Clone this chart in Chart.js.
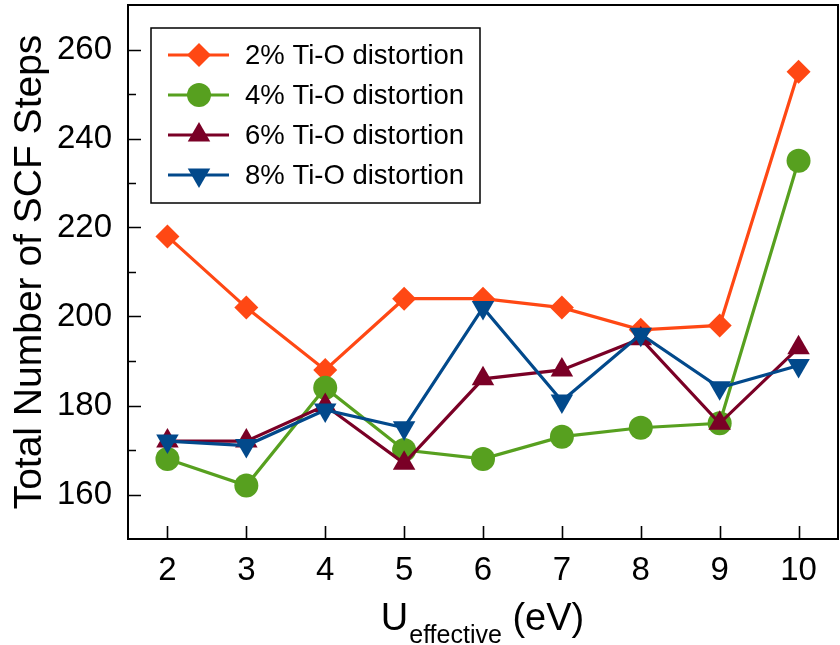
<!DOCTYPE html>
<html>
<head>
<meta charset="utf-8">
<script src="https://cdn.jsdelivr.net/npm/chart.js@4.4.1/dist/chart.umd.min.js"></script>
<style>
  html, body { margin: 0; padding: 0; background: #fff; }
  #wrap { width: 840px; height: 645px; }
</style>
</head>
<body>
<div id="wrap"><canvas id="scf" width="840" height="645"></canvas></div>
<script>
// U_effective (eV) on the x axis
const uValues = [2, 3, 4, 5, 6, 7, 8, 9, 10];

// total SCF steps for each distortion
const steps2 = [218, 202, 188, 204, 204, 202, 197, 198, 255];
const steps4 = [168, 162, 184, 170, 168, 173, 175, 176, 235];
const steps6 = [172, 172, 180, 167, 186, 188, 195, 176, 193];
const steps8 = [172, 171, 179, 175, 202, 181, 196, 184, 189];

const seriesNames = ['2% Ti-O distortion', '4% Ti-O distortion', '6% Ti-O distortion', '8% Ti-O distortion'];

const yTickValues = [160, 180, 200, 220, 240, 260];
const yMinorValues = [170, 190, 210, 230, 250];

const FONT = "'Liberation Sans', Arial, Helvetica, sans-serif";

const styles = [
  { color: '#ff4814', pointStyle: 'rectRot', radius: 12, rotation: 0 },
  { color: '#57a01f', pointStyle: 'circle', radius: 12, rotation: 0 },
  { color: '#7a0026', pointStyle: 'triangle', radius: 13, rotation: 0 },
  { color: '#02498b', pointStyle: 'triangle', radius: 13, rotation: 180 }
];

function toPoints(arr) {
  return arr.map((v, i) => ({ x: uValues[i], y: v }));
}

const datasets = [steps2, steps4, steps6, steps8].map((arr, i) => ({
  label: seriesNames[i],
  data: toPoints(arr),
  borderColor: styles[i].color,
  backgroundColor: styles[i].color,
  pointBackgroundColor: styles[i].color,
  pointBorderWidth: 0,
  pointStyle: styles[i].pointStyle,
  pointRadius: styles[i].radius,
  pointRotation: styles[i].rotation,
  borderWidth: 3.2,
  tension: 0,
  order: 3 - i   // later series on top
}));

// keep the plot box fixed: no extra room for edge labels
function noEdgePadding(s) {
  s.paddingTop = 0;
  s.paddingBottom = 0;
  s.paddingLeft = 0;
  s.paddingRight = 0;
}

// frame, inward ticks, x title with subscript, legend box
const decorations = {
  id: 'decorations',
  afterDraw(chart) {
    const ctx = chart.ctx;
    const a = chart.chartArea;
    const xs = chart.scales.x, ys = chart.scales.y;
    ctx.save();
    ctx.strokeStyle = '#000';
    ctx.lineWidth = 2;
    ctx.strokeRect(a.left, a.top, a.right - a.left, a.bottom - a.top);

    ctx.beginPath();
    uValues.forEach(v => {
      const px = Math.round(xs.getPixelForValue(v)) + 0.5;
      ctx.moveTo(px, a.bottom);
      ctx.lineTo(px, a.bottom - 13);
    });
    yTickValues.forEach(v => {
      const py = Math.round(ys.getPixelForValue(v)) + 0.5;
      ctx.moveTo(a.left, py);
      ctx.lineTo(a.left + 13, py);
    });
    yMinorValues.forEach(v => {
      const py = Math.round(ys.getPixelForValue(v)) + 0.5;
      ctx.moveTo(a.left, py);
      ctx.lineTo(a.left + 8, py);
    });
    ctx.lineWidth = 1.6;
    ctx.stroke();

    // x axis title: U_effective (eV)
    const mainFont = '38px ' + FONT, subFont = '25px ' + FONT;
    ctx.fillStyle = '#000';
    ctx.textBaseline = 'alphabetic';
    ctx.textAlign = 'left';
    ctx.font = mainFont;
    const wU = ctx.measureText('U').width;
    const wRest = ctx.measureText(' (eV)').width;
    ctx.font = subFont;
    const wSub = ctx.measureText('effective').width;
    let tx = (a.left + a.right) / 2 - (wU + wSub + wRest) / 2 - 1;
    const baseY = 630;
    ctx.font = mainFont;
    ctx.fillText('U', tx, baseY);
    tx += wU + 1;
    ctx.font = subFont;
    ctx.fillText('effective', tx, baseY + 13);
    tx += wSub;
    ctx.font = mainFont;
    ctx.fillText(' (eV)', tx, baseY);

    // legend
    const box = { x: 151, y: 28, w: 329, h: 175 };
    ctx.fillStyle = '#fff';
    ctx.fillRect(box.x, box.y, box.w, box.h);
    ctx.lineWidth = 1.5;
    ctx.strokeStyle = '#000';
    ctx.strokeRect(box.x, box.y, box.w, box.h);
    const rowY = [55, 95, 135, 175];
    chart.data.datasets.forEach((ds, i) => {
      const y = rowY[i];
      ctx.strokeStyle = ds.borderColor;
      ctx.lineWidth = 3.2;
      ctx.beginPath();
      ctx.moveTo(168, y);
      ctx.lineTo(229, y);
      ctx.stroke();
      ctx.fillStyle = ds.pointBackgroundColor;
      Chart.helpers.drawPoint(ctx, {
        pointStyle: ds.pointStyle,
        radius: ds.pointRadius,
        rotation: ds.pointRotation,
        borderWidth: 0
      }, 199, y);
      ctx.fillStyle = '#000';
      ctx.font = '27.5px ' + FONT;
      ctx.textBaseline = 'middle';
      ctx.fillText(ds.label, 245, y + 1);
    });
    ctx.restore();
  }
};

new Chart(document.getElementById('scf').getContext('2d'), {
  type: 'line',
  data: { datasets: datasets },
  options: {
    responsive: false,
    animation: false,
    layout: { autoPadding: false, padding: { top: 5, right: 2, left: 0, bottom: 0 } },
    plugins: {
      legend: { display: false },
      tooltip: { enabled: false }
    },
    scales: {
      x: {
        type: 'linear',
        min: 1.5,
        max: 10.5,
        grid: { display: false, drawTicks: false },
        border: { display: false },
        afterBuildTicks: s => { s.ticks = uValues.map(v => ({ value: v })); },
        afterFit: s => { s.height = 106; noEdgePadding(s); },
        ticks: {
          padding: 12,
          color: '#000',
          font: { family: FONT, size: 33 }
        }
      },
      y: {
        min: 150,
        max: 270,
        grid: { display: false, drawTicks: false },
        border: { display: false },
        afterBuildTicks: s => { s.ticks = yTickValues.map(v => ({ value: v })); },
        afterFit: s => { s.width = 128; noEdgePadding(s); },
        ticks: {
          padding: 16,
          color: '#000',
          font: { family: FONT, size: 33 }
        },
        title: {
          display: true,
          text: 'Total Number of SCF Steps',
          color: '#000',
          padding: { top: 7, bottom: 0 },
          font: { family: FONT, size: 39 }
        }
      }
    }
  },
  plugins: [decorations]
});
</script>
</body>
</html>
